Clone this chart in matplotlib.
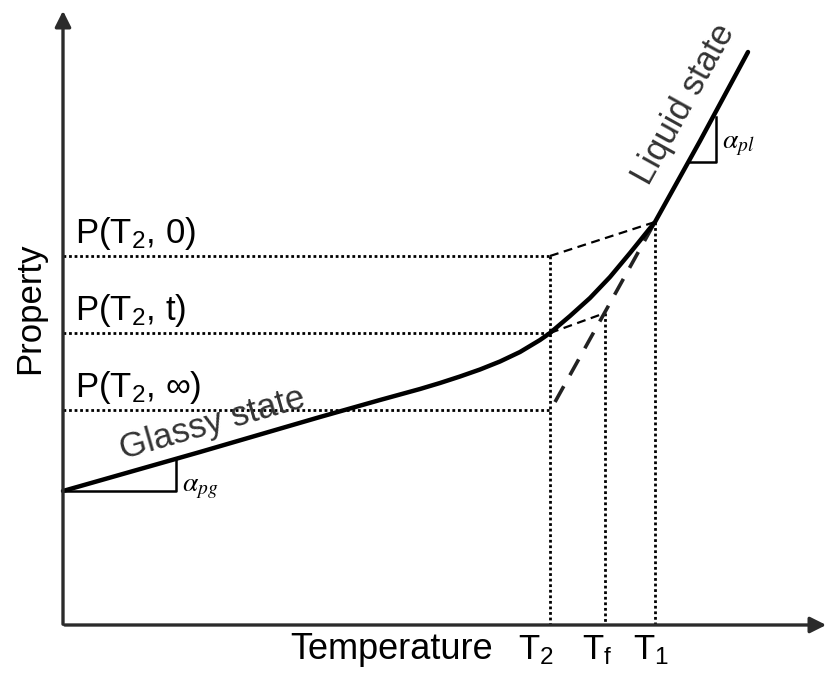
import numpy as np
import matplotlib.pyplot as plt

plt.rcParams['font.family'] = ['Liberation Sans', 'DejaVu Sans']
plt.rcParams['mathtext.fontset'] = 'custom'
plt.rcParams['mathtext.rm'] = 'Liberation Sans'
plt.rcParams['mathtext.it'] = 'Liberation Sans:italic'

# Esquema dibujado en coordenadas de imagen (x a la derecha, y hacia abajo)
W, H = 830, 680
origen = (63, 625)  # cruce de los ejes

# Temperaturas caracteristicas (posicion en x)
T2, Tf, T1 = 550, 605, 655
# Niveles de la propiedad en T2
P_0, P_t, P_inf = 256, 333, 410

# Curva de enfriamiento (vidrio -> transicion -> liquido)
curva_x = [63, 200, 320, 380, 400, 420, 440, 460, 480, 500, 520, 540, 550,
           570, 590, 610, 630, 655, 700, 748]
curva_y = [491, 452, 417, 400, 394.5, 389, 383, 376.5, 369.5, 361.5, 352, 340, 333,
           316, 298, 277, 253, 222, 141, 52]

# Extrapolacion del liquido (linea de trazos largos)
liq_ext_x = [555, T1]
liq_ext_y = [402, 222]
# Pendientes del vidrio desde T1 y desde el punto en T2
vid_1_x, vid_1_y = [T2, T1], [P_0, 222]
vid_2_x, vid_2_y = [T2, Tf], [P_t, 313]

# Triangulos de pendiente
tri_g_x, tri_g_y = [63, 176, 176], [491, 491, 459]
tri_l_x, tri_l_y = [690, 716, 716], [162, 162, 117]

fig = plt.figure(figsize=(W / 100, H / 100), dpi=100)
ax = fig.add_axes([0, 0, 1, 1])
ax.set_xlim(0, W)
ax.set_ylim(H, 0)
ax.axis('off')

gris = '#2b2b2b'

# Ejes con flecha
ax.annotate('', xy=(origen[0], 8), xytext=(origen[0], origen[1] + 2),
            arrowprops=dict(arrowstyle='-|>', lw=2.4, color=gris, mutation_scale=24))
ax.annotate('', xy=(W - 1, origen[1]), xytext=(origen[0] - 1, origen[1]),
            arrowprops=dict(arrowstyle='-|>', lw=2.4, color=gris, mutation_scale=24))

# Lineas punteadas de referencia
for nivel in [P_0, P_t, P_inf]:
    ax.plot([origen[0], T2], [nivel, nivel], color='black', lw=2, linestyle=(0, (1, 1)))
for tx, ty in [(T2, P_0), (Tf, 313), (T1, 222)]:
    ax.plot([tx, tx], [ty, origen[1]], color='black', lw=2, linestyle=(0, (1, 1)))

# Trazos
ax.plot(vid_1_x, vid_1_y, color='black', lw=1.6, dashes=(4, 2.5))
ax.plot(vid_2_x, vid_2_y, color='black', lw=1.6, dashes=(4, 2.5))
ax.plot(liq_ext_x, liq_ext_y, color='#222222', lw=2.6, dashes=(5, 3.5))

# Curva principal
ax.plot(curva_x, curva_y, color='black', lw=3.2, solid_capstyle='round',
        solid_joinstyle='round')

# Triangulos
ax.plot(tri_g_x, tri_g_y, color='black', lw=1.8)
ax.plot(tri_l_x, tri_l_y, color='black', lw=1.8)
ax.text(182, 491, r'$\alpha_{pg}$', fontsize=20, math_fontfamily='stix', va='baseline')
ax.text(722, 148, r'$\alpha_{pl}$', fontsize=20, math_fontfamily='stix', va='baseline')

# Textos
fs = 25
ax.text(75, 243, r'P(T$_2$, 0)', fontsize=fs, va='baseline')
ax.text(75, 320, r'P(T$_2$, t)', fontsize=fs, va='baseline')
ax.text(75, 397, 'P(T$_2$, \u221e)', fontsize=fs, va='baseline')
ax.text(290, 659, 'Temperature', fontsize=26, va='baseline')
ax.text(518, 659, r'T$_2$', fontsize=fs, va='baseline')
ax.text(582, 659, r'T$_{\rm f}$', fontsize=fs, va='baseline')
ax.text(633, 659, r'T$_1$', fontsize=fs, va='baseline')
ax.text(30, 308, 'Property', fontsize=fs, rotation=90, ha='center', va='center')
ax.text(212, 424, 'Glassy state', fontsize=fs, rotation=16, ha='center', va='center', color='#333333')
ax.text(684, 104, 'Liquid state', fontsize=fs, rotation=61, ha='center', va='center', color='#333333')

fig.savefig('out.png', dpi=100)
